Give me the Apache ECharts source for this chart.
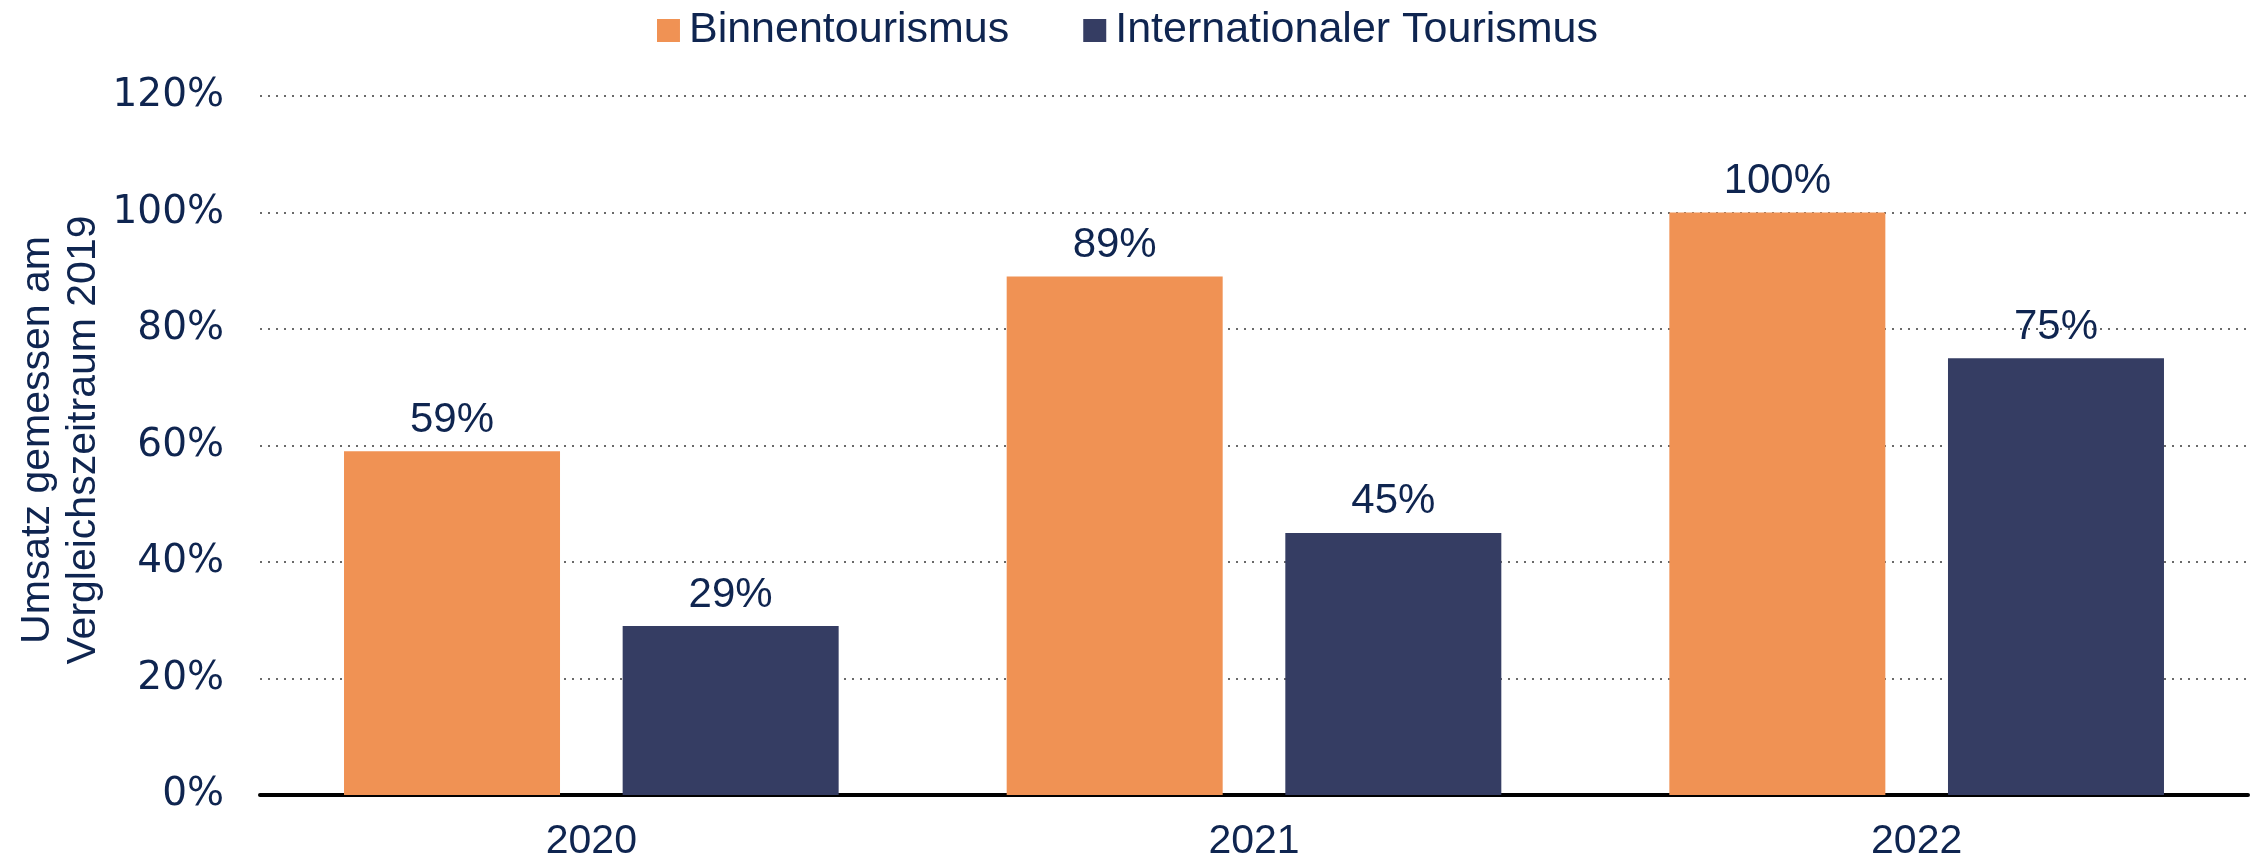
<!DOCTYPE html>
<html>
<head>
<meta charset="utf-8">
<script src="https://cdn.jsdelivr.net/npm/echarts@6/dist/echarts.min.js"></script>
<style>
  html, body { margin: 0; padding: 0; background: #fff; }
  #chart { width: 2255px; height: 863px; }
</style>
</head>
<body>
<div id="chart"></div>
<script>
// Jahre und Werte (Umsatz in % von 2019)
const years = ['2020', '2021', '2022']
const binnen = [59, 89, 100]
const international = [29, 45, 75]
const seriesNames = ['Binnentourismus', 'Internationaler Tourismus']
const yTicks = [0, 20, 40, 60, 80, 100, 120]
const yTitle = 'Umsatz gemessen am\nVergleichszeitraum 2019'

const textColor = '#0f2550'
const chart = echarts.init(document.getElementById('chart'), null, {renderer: 'canvas'})

const labelStyle = {
  show: true,
  position: 'top',
  distance: 10,
  formatter: '{c}%',
  color: textColor,
  fontFamily: 'Liberation Sans, Arial, sans-serif',
  fontSize: 42
}

chart.setOption({
  animation: false,
  legend: {
    top: 4,
    left: 'center',
    itemWidth: 23,
    itemHeight: 23,
    itemGap: 74,
    icon: 'rect',
    textStyle: {
      color: textColor,
      fontFamily: 'Liberation Sans, Arial, sans-serif',
      fontSize: 43,
      padding: [0, 0, 0, 4]
    },
    data: seriesNames
  },
  grid: {
    left: 260,
    right: 7,
    top: 96,
    bottom: 68,
    outerBoundsMode: 'none'
  },
  // Achsentitel als gedrehter Text (Name der Achse wird sonst verschoben)
  graphic: [{
    type: 'text',
    x: 61,
    y: 440,
    rotation: Math.PI / 2,
    style: {
      text: yTitle,
      fill: textColor,
      font: '41px "Liberation Sans", Arial, sans-serif',
      lineHeight: 46,
      align: 'center',
      verticalAlign: 'middle'
    }
  }],
  xAxis: {
    type: 'category',
    data: years,
    axisLine: {lineStyle: {color: '#000', width: 4}},
    axisTick: {show: false},
    axisLabel: {
      color: textColor,
      fontFamily: 'Liberation Sans, Arial, sans-serif',
      fontSize: 41,
      margin: 26
    }
  },
  yAxis: {
    type: 'value',
    min: yTicks[0],
    max: yTicks[yTicks.length - 1],
    interval: 20,
    axisLine: {show: false},
    axisTick: {show: false},
    axisLabel: {
      formatter: '{value}%',
      color: textColor,
      fontFamily: 'DejaVu Sans, sans-serif',
      fontSize: 39,
      margin: 36
    },
    splitLine: {
      lineStyle: {color: '#6a6a6a', width: 2, type: [2, 6]}
    }
  },
  series: [
    {
      name: seriesNames[0],
      type: 'bar',
      data: binnen,
      barWidth: 216,
      barGap: '29%',
      itemStyle: {color: '#f09254'},
      label: labelStyle
    },
    {
      name: seriesNames[1],
      type: 'bar',
      data: international,
      barWidth: 216,
      barGap: '29%',
      itemStyle: {color: '#353d63'},
      label: labelStyle
    }
  ]
})
</script>
</body>
</html>
